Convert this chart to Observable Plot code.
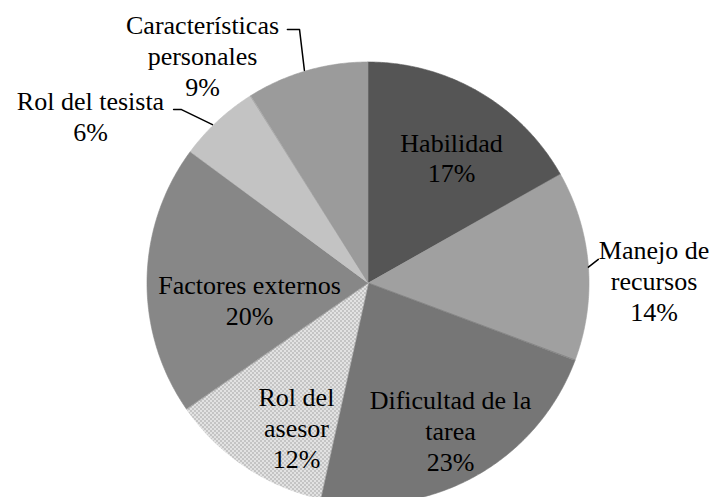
<!DOCTYPE html>
<html><head><meta charset="utf-8">
<script src="https://cdn.jsdelivr.net/npm/d3@7"></script>
<script src="https://cdn.jsdelivr.net/npm/@observablehq/plot@0.6"></script>
<style>
html,body{margin:0;padding:0;background:#fff;overflow:hidden}
#chart{width:716px;height:497px;overflow:hidden}
#chart svg text{font-family:"Liberation Serif","DejaVu Serif",serif !important}
</style>
</head><body><div id="chart"></div>
<script>
// ---- data ----
const categories = ["Habilidad","Manejo de recursos","Dificultad de la tarea","Rol del asesor","Factores externos","Rol del tesista","Características personales"];
const values = [17, 14, 23, 12, 20, 6, 9];
const labelLines = ["Habilidad","Manejo de\nrecursos","Dificultad de la\ntarea","Rol del\nasesor","Factores externos","Rol del tesista","Características\npersonales"];

// ---- styles / layout ----
const sliceColors = ["#555555","#a0a0a0","#767676","url(#checker)","#878787","#c3c3c3","#9b9b9b"];
const labelX = [0.376, 1.292, 0.371, -0.326, -0.538, -1.258, -0.751];
const labelY = [0.572, 0.014, -0.664, -0.650, -0.073, 0.759, 1.034];
const leaders = [
  {id:"manejo", pts:[[0.995,0.074],[1.040,0.109]]},
  {id:"tesista", pts:[[-0.882,0.787],[-0.846,0.787],[-0.706,0.719]]},
  {id:"caract", pts:[[-0.367,1.149],[-0.312,1.149],[-0.290,0.964]]}
];
const cx = 368, cy = 283, R = 221;

// ---- build pie geometry from data ----
const arcs = d3.pie().sort(null).value(d => d)(values);
const areaData = [];
arcs.forEach((a, i) => {
  const n = Math.max(2, Math.ceil((a.endAngle - a.startAngle) / (Math.PI / 360)));
  for (let k = 0; k <= n; k++) {
    const t = a.startAngle + (a.endAngle - a.startAngle) * k / n;
    areaData.push({cat: categories[i], x: Math.sin(t), y: Math.cos(t)});
  }
});
const labels = categories.map((c, i) => ({cat: c, x: labelX[i], y: labelY[i], text: labelLines[i] + "\n" + values[i] + "%"}));
const leaderData = leaders.flatMap(l => l.pts.map(p => ({id: l.id, x: p[0], y: p[1]})));

const chart = Plot.plot({
  width: 716,
  height: 497,
  style: {background: "#fff", overflow: "hidden"},
  x: {domain: [-1, 1], range: [cx - R, cx + R], axis: null},
  y: {domain: [-1, 1], range: [cy + R, cy - R], axis: null},
  color: {type: "ordinal", domain: categories, range: sliceColors},
  marks: [
    Plot.area(areaData, {x1: "x", y1: "y", x2: 0, y2: 0, z: "cat", fill: "cat", stroke: "cat", strokeWidth: 0.6, curve: "linear"}),
    Plot.line(leaderData, {x: "x", y: "y", z: "id", stroke: "#000", strokeWidth: 1.5, curve: "linear"}),
    Plot.text(labels, {x: "x", y: "y", text: "text", fill: "#000", fontSize: 26, lineHeight: 1.19, fontFamily: "Liberation Serif", textAnchor: "middle"})
  ]
});

// checker pattern for "Rol del asesor"
const ns = "http://www.w3.org/2000/svg";
const defs = document.createElementNS(ns, "defs");
const pat = document.createElementNS(ns, "pattern");
pat.setAttribute("id", "checker");
pat.setAttribute("width", "4");
pat.setAttribute("height", "4");
pat.setAttribute("patternUnits", "userSpaceOnUse");
[["0","0","4","4","#e2e2e2"],["0","0","2","2","#c4c4c4"],["2","2","2","2","#c4c4c4"]].forEach(r => {
  const rect = document.createElementNS(ns, "rect");
  rect.setAttribute("x", r[0]); rect.setAttribute("y", r[1]);
  rect.setAttribute("width", r[2]); rect.setAttribute("height", r[3]);
  rect.setAttribute("fill", r[4]);
  pat.appendChild(rect);
});
defs.appendChild(pat);
chart.insertBefore(defs, chart.firstChild);
document.getElementById("chart").appendChild(chart);
</script>
</body></html>
